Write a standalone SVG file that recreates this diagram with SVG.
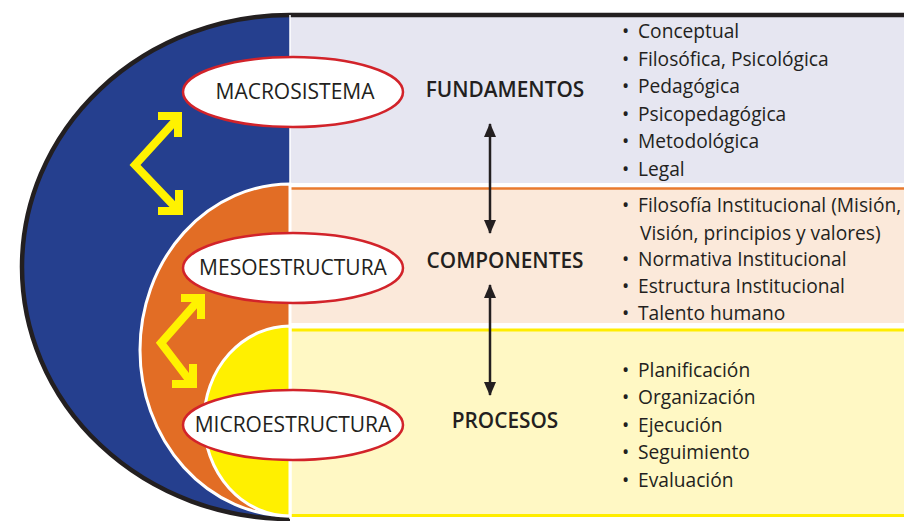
<svg xmlns="http://www.w3.org/2000/svg" width="904" height="521" viewBox="0 0 904 521">
<style>
.lbl{font-family:"Open Sans","Liberation Sans",sans-serif;font-size:21px;fill:#231F20;text-anchor:middle}
.hdr{font-family:"Open Sans","Liberation Sans",sans-serif;font-size:20.8px;font-weight:600;fill:#231F20;text-anchor:middle}
.itm{font-family:"Open Sans","Liberation Sans",sans-serif;font-size:19.2px;fill:#231F20}
.node{fill:#fff;stroke:#D2232A;stroke-width:2.5}
.ya{fill:none;stroke:#FFF200;stroke-width:8;stroke-linejoin:miter;stroke-miterlimit:10}
.conn{stroke:#231F20;stroke-width:2.5;fill:none}
</style>
<defs>
<marker id="ah" viewBox="0 0 14 12" refX="13" refY="6" markerWidth="14" markerHeight="12" markerUnits="userSpaceOnUse" orient="auto-start-reverse">
<path d="M0,0 L14,6 L0,12 Z" fill="#231F20"/>
</marker>
</defs>
<rect width="904" height="521" fill="#fff"/>
<g id="bands">
<rect x="290" y="15" width="614" height="168" fill="#E6E6F1"/>
<rect x="290" y="188" width="614" height="135" fill="#FBE9DA"/>
<line x1="290" y1="188.5" x2="904" y2="188.5" stroke="#E97A2E" stroke-width="2.5"/>
<rect x="290" y="329" width="614" height="187" fill="#FFF8C4"/>
<line x1="290" y1="330" x2="904" y2="330" stroke="#FFED00" stroke-width="3"/>
<line x1="290" y1="515.5" x2="904" y2="515.5" stroke="#FFED00" stroke-width="3"/>
</g>
<g id="shapes">
<path d="M290,15 A268,252 0 0 0 290,519 Z" fill="#253F8E"/>
<path d="M904,15 H290 A268,252 0 0 0 290,519" fill="none" stroke="#231F20" stroke-width="4.5"/>
<path d="M290,184 A150,166 0 0 0 290,516 Z" fill="#E26D25" stroke="#fff" stroke-width="3"/>
<path d="M290,326 A86,95 0 0 0 290,516 Z" fill="#FFF000" stroke="#fff" stroke-width="3"/>
<line x1="290" y1="15" x2="290" y2="519" stroke="#fff" stroke-width="1.5"/>
</g>
<g id="connectors">
<line class="conn" x1="490" y1="124" x2="490" y2="233" marker-start="url(#ah)" marker-end="url(#ah)"/>
<line class="conn" x1="490" y1="285" x2="490" y2="395" marker-start="url(#ah)" marker-end="url(#ah)"/>
<polyline class="ya" points="176,120 135,165 176,208"/>
<polyline class="ya" points="158,116 178,116 178,137"/>
<polyline class="ya" points="179,190 179,211 158,211"/>
<polyline class="ya" points="198,301 161,343 190,381"/>
<polyline class="ya" points="181,298 201,298 201,319"/>
<polyline class="ya" points="193,364 193,384 172,384"/>
</g>
<g id="macrosistema">
<ellipse class="node" cx="293" cy="92" rx="110" ry="35"/>
<text class="lbl" x="295" y="99">MACROSISTEMA</text>
</g>
<g id="mesoestructura">
<ellipse class="node" cx="293" cy="268" rx="110" ry="35"/>
<text class="lbl" x="293" y="275">MESOESTRUCTURA</text>
</g>
<g id="microestructura">
<ellipse class="node" cx="293" cy="425" rx="110" ry="35"/>
<text class="lbl" x="293" y="432">MICROESTRUCTURA</text>
</g>
<g id="fundamentos">
<text class="hdr" x="505" y="97">FUNDAMENTOS</text>
<text class="itm"><tspan x="622" y="38">•</tspan><tspan x="638" y="38">Conceptual</tspan></text>
<text class="itm"><tspan x="622" y="66">•</tspan><tspan x="638" y="66">Filosófica, Psicológica</tspan></text>
<text class="itm"><tspan x="622" y="93">•</tspan><tspan x="638" y="93">Pedagógica</tspan></text>
<text class="itm"><tspan x="622" y="121">•</tspan><tspan x="638" y="121">Psicopedagógica</tspan></text>
<text class="itm"><tspan x="622" y="148">•</tspan><tspan x="638" y="148">Metodológica</tspan></text>
<text class="itm"><tspan x="622" y="176">•</tspan><tspan x="638" y="176">Legal</tspan></text>
</g>
<g id="componentes">
<text class="hdr" x="505" y="268">COMPONENTES</text>
<text class="itm"><tspan x="622" y="212">•</tspan><tspan x="638" y="212">Filosofía Institucional (Misión,</tspan></text>
<text class="itm" x="640" y="240">Visión, principios y valores)</text>
<text class="itm"><tspan x="622" y="266">•</tspan><tspan x="638" y="266">Normativa Institucional</tspan></text>
<text class="itm"><tspan x="622" y="293">•</tspan><tspan x="638" y="293">Estructura Institucional</tspan></text>
<text class="itm"><tspan x="622" y="320">•</tspan><tspan x="638" y="320">Talento humano</tspan></text>
</g>
<g id="procesos">
<text class="hdr" x="505" y="428">PROCESOS</text>
<text class="itm"><tspan x="622" y="377">•</tspan><tspan x="638" y="377">Planificación</tspan></text>
<text class="itm"><tspan x="622" y="404">•</tspan><tspan x="638" y="404">Organización</tspan></text>
<text class="itm"><tspan x="622" y="432">•</tspan><tspan x="638" y="432">Ejecución</tspan></text>
<text class="itm"><tspan x="622" y="459">•</tspan><tspan x="638" y="459">Seguimiento</tspan></text>
<text class="itm"><tspan x="622" y="487">•</tspan><tspan x="638" y="487">Evaluación</tspan></text>
</g>
</svg>
